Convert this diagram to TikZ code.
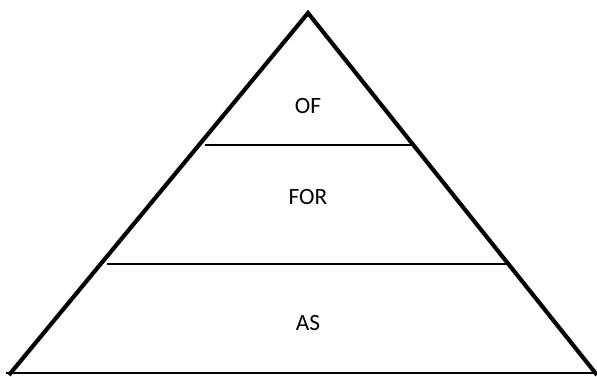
\documentclass[tikz,border=0pt]{standalone}
\usepackage{fontspec}
\setmainfont{Carlito}
\begin{document}
\begin{tikzpicture}[x=0.75pt,y=-0.75pt,
  side/.style={line width=3.1pt,line join=miter},
  tier/.style={line width=1.5pt},
  label/.style={font=\fontsize{17.5}{20}\selectfont,inner sep=0pt}]
\useasboundingbox (0,0) rectangle (597,376);
\begin{scope}
\clip (0,0) rectangle (597,376);
\coordinate (apex) at (308,13);
\coordinate (bl) at (9,375);
\coordinate (br) at (597,375);
\draw[side] (bl) -- (apex) -- (br);
\coordinate (bbl) at (6,373);
\coordinate (bbr) at (597,373);
\draw[line width=1.3pt] (bbl) -- (bbr);
\coordinate (t1l) at (205,145);
\coordinate (t1r) at (412,145);
\draw[tier] (t1l) -- (t1r);
\coordinate (t2l) at (107,264);
\coordinate (t2r) at (510,264);
\draw[tier] (t2l) -- (t2r);
\end{scope}
\node[label] (of) at (308,106) {OF};
\node[label] (for) at (308,197) {FOR};
\node[label] (as) at (308,323) {AS};
\end{tikzpicture}
\end{document}
